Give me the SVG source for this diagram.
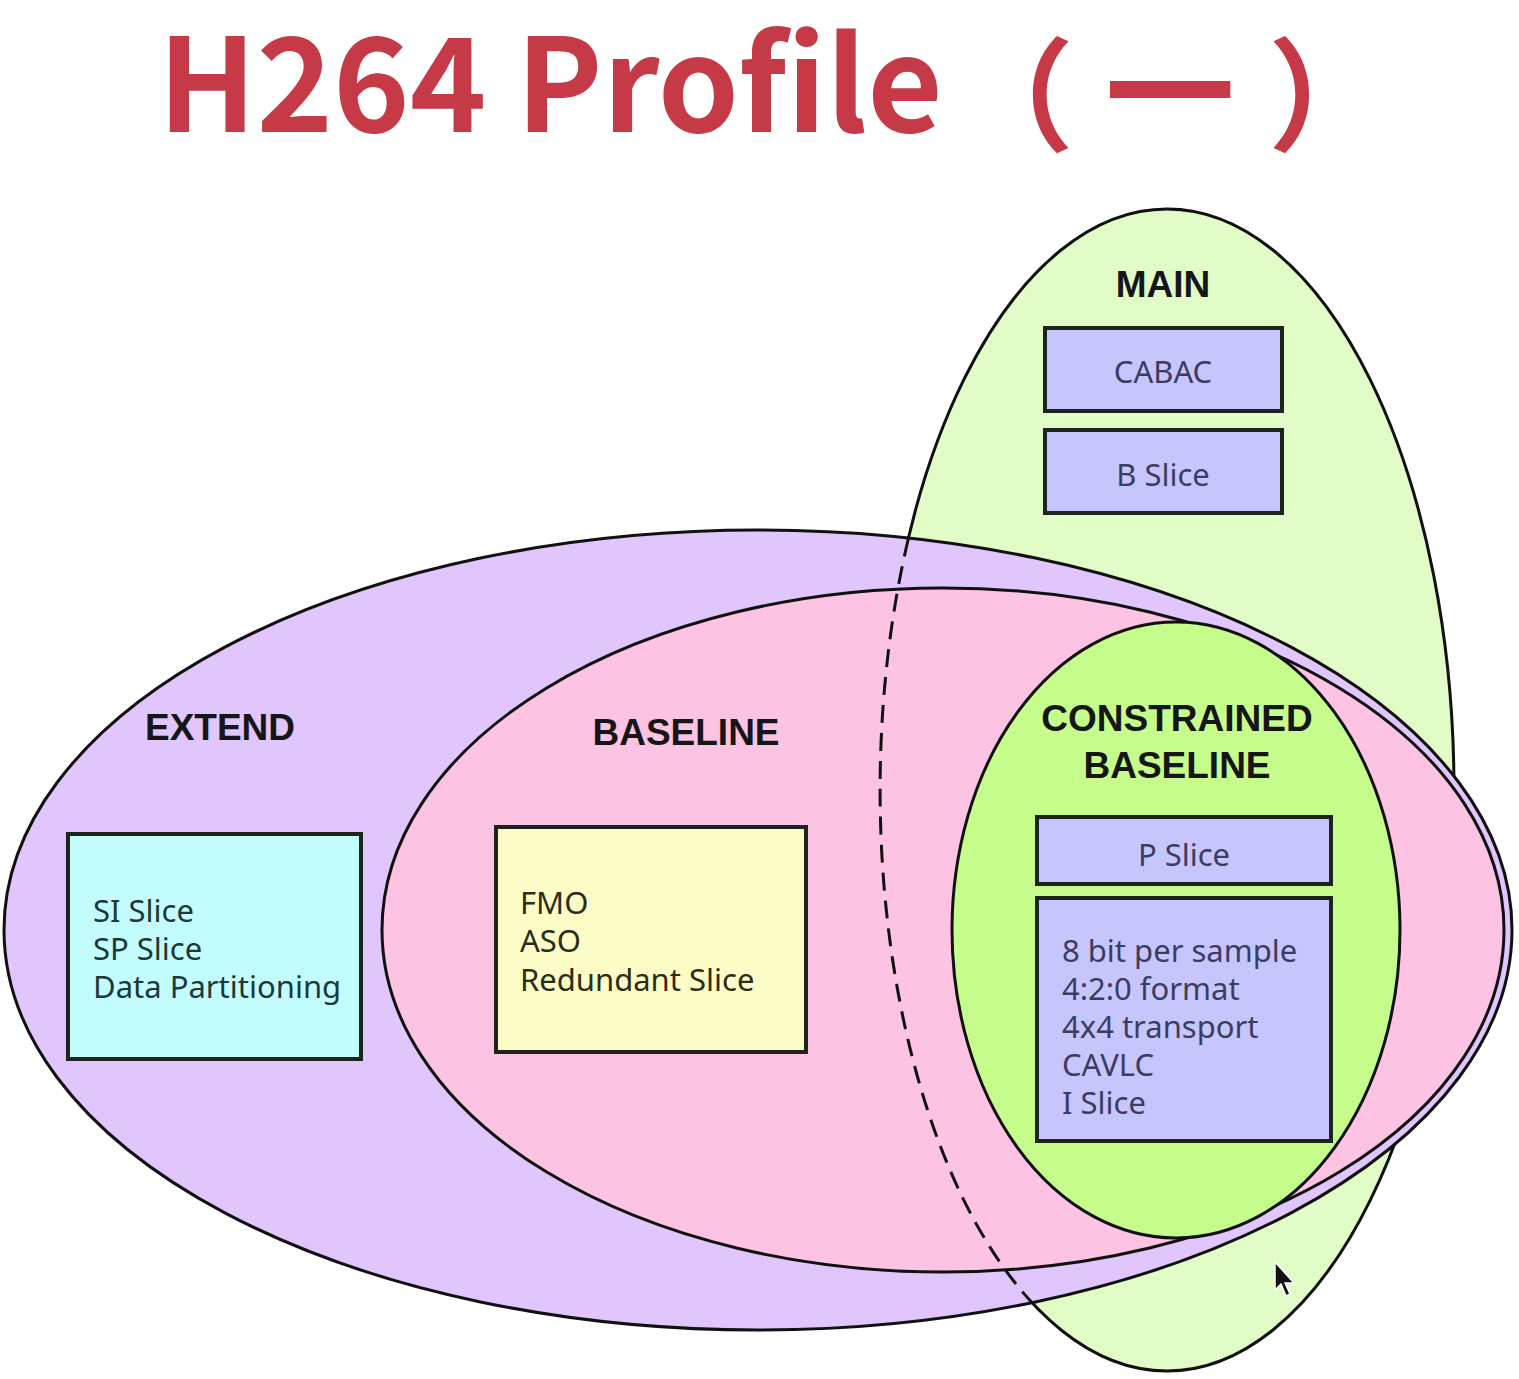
<svg xmlns="http://www.w3.org/2000/svg" width="1519" height="1379" viewBox="0 0 1519 1379">
<style>
.ell{stroke:#111;stroke-width:3}
.box{stroke:#1c241c;stroke-width:4}
.lbl{font-family:"Liberation Sans",Arial,sans-serif;font-weight:bold;font-size:37px;fill:#161616}
.txt{font-family:"Noto Sans","DejaVu Sans",sans-serif;font-size:31px}
.lav{fill:#3c3c62}
.cy{fill:#1c3838}
.ye{fill:#2c2c18}
.title{font-family:"Noto Sans CJK SC","Noto Sans",sans-serif;font-weight:bold;fill:#c63a48}
</style>
<defs>
<clipPath id="extClip"><ellipse cx="758" cy="930" rx="754" ry="400"/></clipPath>
</defs>
<rect width="1519" height="1379" fill="#ffffff"/>
<g id="title">
<text class="title" x="158" y="132" font-size="130">H264 Profile</text>
<text class="title" x="952" y="141" font-size="122">（</text>
<text class="title" x="1105" y="140" font-size="130">一</text>
<text class="title" x="1268" y="141" font-size="122">）</text>
</g>

<g id="main">
<ellipse class="ell" cx="1167" cy="790" rx="287" ry="581" fill="#e2fcc8"/>
<text class="lbl" x="1163" y="297" text-anchor="middle">MAIN</text>
</g>
<g id="extend">
<ellipse class="ell" cx="758" cy="930" rx="754" ry="400" fill="#e0c6fc"/>
<text class="lbl" x="220" y="740" text-anchor="middle">EXTEND</text>
</g>
<g id="baseline">
<ellipse class="ell" cx="943" cy="930" rx="561" ry="342" fill="#fdc3e3"/>
<text class="lbl" x="686" y="745" text-anchor="middle">BASELINE</text>
</g>
<g id="constrained">
<ellipse class="ell" cx="1176" cy="930" rx="224" ry="308" fill="#c6fc8c"/>
<text class="lbl" x="1177" y="731" text-anchor="middle">CONSTRAINED</text>
<text class="lbl" x="1177" y="778" text-anchor="middle">BASELINE</text>
</g>

<g id="connectors">
<path d="M1167,209 A287,581 0 0 0 1167,1371" fill="none" stroke="#111" stroke-width="3" stroke-dasharray="18,10" clip-path="url(#extClip)"/>
</g>

<g id="cabac">
<rect class="box" x="1045" y="328" width="237" height="83" fill="#c6c6fc"/>
<text class="txt lav" x="1163" y="383" text-anchor="middle">CABAC</text>
</g>
<g id="bslice">
<rect class="box" x="1045" y="430" width="237" height="83" fill="#c6c6fc"/>
<text class="txt lav" x="1163" y="486" text-anchor="middle">B Slice</text>
</g>
<g id="extend-box">
<rect class="box" x="68" y="834" width="293" height="225" fill="#c2fcfc"/>
<text class="txt cy" x="93" y="922">SI Slice</text>
<text class="txt cy" x="93" y="960">SP Slice</text>
<text class="txt cy" x="93" y="998">Data Partitioning</text>
</g>
<g id="baseline-box">
<rect class="box" x="496" y="827" width="310" height="225" fill="#fcfcc6"/>
<text class="txt ye" x="520" y="914">FMO</text>
<text class="txt ye" x="520" y="952">ASO</text>
<text class="txt ye" x="520" y="991">Redundant Slice</text>
</g>
<g id="pslice">
<rect class="box" x="1037" y="817" width="294" height="67" fill="#c6c6fc"/>
<text class="txt lav" x="1184" y="866" text-anchor="middle">P Slice</text>
</g>
<g id="cb-box">
<rect class="box" x="1037" y="898" width="294" height="243" fill="#c6c6fc"/>
<text class="txt lav" x="1062" y="962">8 bit per sample</text>
<text class="txt lav" x="1062" y="1000">4:2:0 format</text>
<text class="txt lav" x="1062" y="1038">4x4 transport</text>
<text class="txt lav" x="1062" y="1076">CAVLC</text>
<text class="txt lav" x="1062" y="1114">I Slice</text>
</g>

<polygon points="1275,1262 1275,1290 1281,1284 1286,1296 1290,1294 1285,1283 1294,1283" fill="#111" stroke="#fff" stroke-width="1.5"/>
</svg>
